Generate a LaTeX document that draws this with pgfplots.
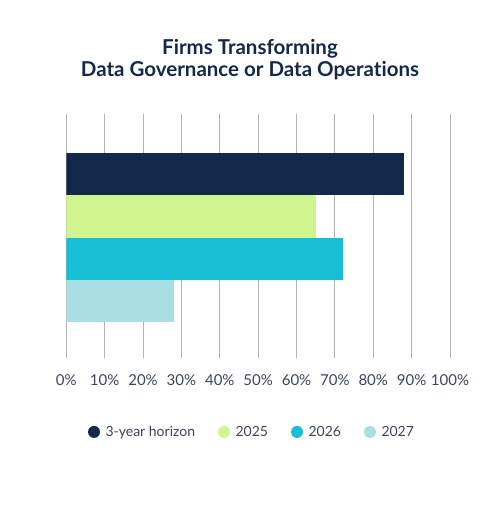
\documentclass[border=0pt]{standalone}
\usepackage{fontspec}
\setmainfont{Lato}[Ligatures={TeX,NoCommon}]
\usepackage{pgfplots}
\pgfplotsset{compat=1.18}
\definecolor{navy}{HTML}{13294A}
\definecolor{lime}{HTML}{D0F58E}
\definecolor{cyanb}{HTML}{18BED3}
\definecolor{lightc}{HTML}{A9DFE4}
\definecolor{txt}{HTML}{3A4560}
\definecolor{gridc}{HTML}{B4B4B4}
\begin{document}
\begin{tikzpicture}
\path[use as bounding box] (0pt,0pt) rectangle (500pt,523pt);
\node[anchor=base,font=\bfseries\fontsize{20.5}{24}\selectfont,text=navy] at (250pt,468pt) {Firms Transforming};
\node[anchor=base,font=\bfseries\fontsize{20.5}{24}\selectfont,text=navy] at (250pt,446pt) {Data Governance or Data Operations};
\begin{axis}[
  at={(66.3pt,165pt)}, anchor=south west,
  scale only axis, width=383.7pt, height=244pt,
  xbar, bar width=1, bar shift=0pt,
  xmin=0, xmax=100, ymin=-0.413, ymax=5.342, y dir=reverse,
  xtick={0,10,...,100},
  xticklabel={\pgfmathprintnumber{\tick}\%},
  ytick=\empty,
  xmajorgrids, major grid style={gridc, line width=1pt},
  axis line style={draw=none},
  major tick length=0pt,
  /pgf/number format/assume math mode=true,
  xticklabel style={text=txt, font=\fontsize{15}{18}\selectfont, yshift=-13pt},
  legend columns=4,
  legend style={at={(0.484,-0.303)}, anchor=center, draw=none, fill=none,
    font=\fontsize{14}{16}\selectfont, text=txt,
    /tikz/every odd column/.append style={column sep=3.5pt},
    /tikz/every even column/.append style={column sep=21pt}},
  legend image code/.code={\fill[#1,draw=none] (0pt,0pt) circle (6pt);},
]
\addplot[fill=navy, draw=none] coordinates {(88,1)};
\addplot[fill=lime, draw=none] coordinates {(65,2)};
\addplot[fill=cyanb, draw=none] coordinates {(72,3)};
\addplot[fill=lightc, draw=none] coordinates {(28,4)};
\legend{3-year horizon,2025,2026,2027}
\end{axis}
\end{tikzpicture}
\end{document}
